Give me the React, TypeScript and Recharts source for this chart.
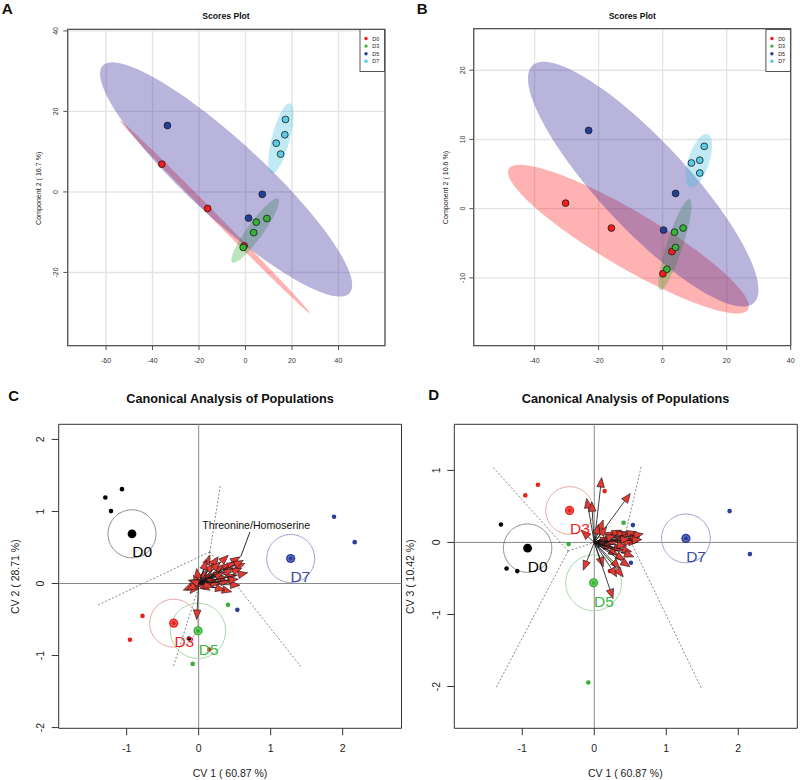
import React from "react";
import {
  ScatterChart,
  Scatter,
  XAxis,
  YAxis,
  CartesianGrid,
  ReferenceLine,
  ReferenceArea,
} from "recharts";

const FONT = '"Liberation Sans", Arial, Helvetica, sans-serif';

const groups = ["D0", "D3", "D5", "D7"];

// PLS-DA scores, one list of [x, y] per group
const scoresA = [
  [[-36, 6.9], [-16.3, -4.1], [-0.6, -13.4]],
  [[-1.0, -13.8], [4.6, -7.5], [9.2, -6.6], [3.5, -10.1]],
  [[-33.6, 16.5], [7.2, -0.6], [1.3, -6.5]],
  [[17.2, 18.0], [16.9, 14.2], [13.2, 12.1], [15.1, 9.4]],
];
const scoresB = [
  [[-30.3, 0.8], [-16.0, -2.8], [2.9, -6.2], [0.1, -9.4]],
  [[3.7, -3.4], [6.4, -2.8], [4.05, -5.6], [1.35, -8.75]],
  [[-23.1, 11.3], [4.05, 2.2], [0.3, -3.1]],
  [[13.0, 9.0], [11.6, 7.0], [9.0, 6.6], [11.6, 5.15]],
];

// 95% regions: centre x, centre y, semi-axis 1 (dx, dy), semi-axis 2 (dx, dy)
const ellipsesA = [
  [-13.15, -6.2, 40.8, -23.9, 0.98, 0.56],
  [4.17, -9.6, 9.9, 7.92, 2.79, -1.17],
  [-8.35, 3.1, 53.1, -28.25, 11.05, 6.95],
  [15.2, 13.3, 3.93, 8.7, 3.74, -0.57],
];
const ellipsesB = [
  [-10.69, -4.4, 37.35, -10.16, 4.41, 3.49],
  [3.83, -5.2, 4.58, 6.55, 2.37, -0.36],
  [-6.07, 3.54, 34.58, -17.14, 10.0, 4.34],
  [11.3, 6.94, 2.7, 3.83, 3.11, -0.47],
];

const plsColors = ["#f41c1c", "#36b336", "#22409a", "#5ccbe6"];
const ellipseColors = ["#ff0000", "#22aa22", "#3b2f9a", "#33bbdd"];
const ellipseOpacity = [0.3, 0.3, 0.36, 0.3];

// canonical analysis: CV1 vs CV2 (C) and CV1 vs CV3 (D)
const meansC = [[-0.926, 0.69], [-0.347, -0.551], [-0.009, -0.657], [1.278, 0.347]];
const obsC = [
  [[-1.296, 1.194], [-1.065, 1.31], [-1.218, 1.005], [-0.134, -0.764]],
  [[-0.78, -0.45], [-0.954, -0.78], [0.148, -0.917]],
  [[0.407, -0.296], [-0.083, -1.116]],
  [[1.88, 0.926], [2.167, 0.574], [0.537, -0.366], [0.509, 0.268]],
];
const radiiC = [0.333, 0.333, 0.383, 0.333];
const labelPosC = [[-0.785, 0.442], [-0.199, -0.803], [0.139, -0.91], [1.412, 0.1]];
const arrowsC = [
  [0.157, 0.393], [0.272, 0.37], [0.411, 0.393], [0.574, 0.37], [0.643, 0.278],
  [0.597, 0.208], [0.528, 0.115], [0.574, -0.024], [0.458, -0.116], [0.365, -0.093],
  [0.296, 0.0], [0.389, 0.092], [0.226, 0.139], [0.111, 0.185], [-0.028, 0.208],
  [-0.075, 0.115], [-0.144, 0.046], [-0.214, -0.093], [-0.121, -0.139], [0.018, -0.047],
  [-0.028, -0.5], [0.157, -0.093], [0.342, 0.254], [0.458, 0.278], [0.203, 0.278],
  [0.528, 0.301], [0.48, 0.2], [0.35, 0.16], [0.25, 0.05], [0.44, 0.03],
  [0.62, 0.32], [0.68, 0.15], [0.2, -0.05], [-0.167, -0.093], [-0.121, 0.046],
  [0.111, 0.324], [0.55, 0.06], [0.3, 0.3],
];
const partitionsC = [
  [0.155, 0.44, 0.301, 1.366],
  [0.155, 0.44, -1.403, -0.301],
  [0.155, 0.44, -0.356, -1.167],
  [0.155, 0.44, 1.43, -1.167],
];

const meansD = [[-0.926, -0.079], [-0.343, 0.444], [-0.009, -0.56], [1.273, 0.056]];
const obsD = [
  [[-1.296, 0.25], [-1.218, -0.361], [-1.069, -0.398]],
  [[-0.958, 0.653], [-0.782, 0.8], [0.144, 0.713], [0.218, -0.398]],
  [[-0.356, -0.023], [0.407, 0.273], [-0.083, -1.944]],
  [[1.88, 0.435], [2.162, -0.162], [0.537, 0.241], [0.509, -0.282]],
];
const radiiD = [0.336, 0.33, 0.387, 0.338];
const labelPosD = [[-0.785, -0.34], [-0.199, 0.192], [0.134, -0.817], [1.414, -0.19]];
const arrowsD = [
  [0.103, 0.9], [-0.106, 0.611], [-0.036, 0.564], [0.5, 0.68], [0.125, 0.31],
  [0.172, 0.217], [0.287, 0.147], [0.38, 0.171], [0.45, 0.147], [0.519, 0.125],
  [0.589, 0.147], [0.635, 0.078], [0.611, 0.008], [0.542, 0.008], [0.45, 0.055],
  [0.333, 0.008], [0.218, 0.055], [0.194, -0.037], [0.264, -0.083], [0.403, -0.107],
  [0.519, -0.13], [0.333, -0.176], [0.426, -0.246], [0.496, -0.339], [0.357, -0.361],
  [0.403, -0.477], [0.311, -0.477], [0.125, -0.339], [-0.153, -0.385], [0.26, -0.78],
  [0.68, 0.12], [0.66, 0.04], [0.5, 0.05], [0.45, -0.05], [0.3, 0.1],
  [0.06, 0.25], [0.55, -0.2], [-0.18, 0.17],
];
const partitionsD = [
  [-0.363, -0.12, -1.405, 1.042],
  [-0.363, -0.12, -1.37, -2.028],
  [-0.363, -0.12, 0.44, 0.147],
  [0.44, 0.147, 0.657, 1.074],
  [0.44, 0.147, 1.49, -2.028],
];

const capColors = ["#000000", "#e8231d", "#36b136", "#2c3f9c"];
const capRing = ["#555555", "#ff8a80", "#9be09b", "#7f8fe0"];
const capCircle = ["#8a8a8a", "#eba0a0", "#a5d6a5", "#9c9cd2"];
const capLabel = ["#000000", "#ee1f1f", "#3dba3d", "#3a4aa8"];

const toXY = (pts: number[][]) => pts.map(([x, y]) => ({ x, y }));

const outline = (cx: number, cy: number, ax: number, ay: number, bx: number, by: number) => {
  const out = [];
  for (let i = 0; i < 120; i++) {
    const t = (i / 120) * Math.PI * 2;
    out.push({ x: cx + ax * Math.cos(t) + bx * Math.sin(t), y: cy + ay * Math.cos(t) + by * Math.sin(t) });
  }
  return out;
};

const pathOf = (pts: any[]) =>
  pts.map((p, i) => `${i ? "L" : "M"}${p.x},${p.y}`).join("") + "Z";

const fillShape = (fill: string, opacity: number) => (p: any) => (
  <path d={pathOf(p.points || [])} fill={fill} fillOpacity={opacity} stroke="none" />
);
const ringShape = (stroke: string) => (p: any) => (
  <path d={pathOf(p.points || [])} fill="none" stroke={stroke} strokeWidth={1} />
);

const noDot = () => <g />;

const dot = (fill: string, r: number, stroke?: string) => (p: any) => (
  <circle cx={p.cx} cy={p.cy} r={r} fill={fill} stroke={stroke || "none"} strokeWidth={0.8} />
);

const meanDot = (fill: string, ring: string) => (p: any) => (
  <g>
    <circle cx={p.cx} cy={p.cy} r={4.6} fill={fill} />
    <circle cx={p.cx} cy={p.cy} r={2.7} fill="none" stroke={ring} strokeWidth={0.8} />
  </g>
);

const textShape = (color: string, size: number) => (p: any) => (
  <text
    x={p.cx}
    y={p.cy}
    textAnchor="middle"
    dominantBaseline="central"
    fontSize={size}
    fontFamily={FONT}
    fill={color}
  >
    {(p.payload && p.payload.text) || p.text}
  </text>
);

const arrowShape = (p: any) => {
  const pts = p.points || [];
  const items = [];
  for (let i = 0; i + 1 < pts.length; i += 2) {
    const o = pts[i];
    const t = pts[i + 1];
    const dx = t.x - o.x;
    const dy = t.y - o.y;
    const len = Math.hypot(dx, dy) || 1;
    const ux = dx / len;
    const uy = dy / len;
    const L = Math.min(9.5, len);
    const W = 3.8;
    const bx = t.x - ux * L;
    const by = t.y - uy * L;
    items.push(
      <g key={i}>
        <line x1={o.x} y1={o.y} x2={bx} y2={by} stroke="#111" strokeWidth={0.8} />
        <polygon
          points={`${t.x},${t.y} ${bx - uy * W},${by + ux * W} ${bx + uy * W},${by - ux * W}`}
          fill="#e23a32"
          stroke="#111"
          strokeWidth={0.6}
        />
      </g>
    );
  }
  return <g>{items}</g>;
};

const xTick = (size: number, dy: number, color: string) => (p: any) => (
  <text
    x={p.x}
    y={p.y + dy}
    textAnchor="middle"
    dominantBaseline="central"
    fontSize={size}
    fontFamily={FONT}
    fill={color}
  >
    {p.payload.value}
  </text>
);

const yTick = (size: number, dx: number, color: string) => (p: any) => {
  const x = p.x - dx;
  return (
    <text
      x={x}
      y={p.y}
      transform={`rotate(-90 ${x} ${p.y})`}
      textAnchor="middle"
      dominantBaseline="central"
      fontSize={size}
      fontFamily={FONT}
      fill={color}
    >
      {p.payload.value}
    </text>
  );
};

function ScoresPanel(props: any) {
  const { left, right, top, yWidth, xDomain, yDomain, xTicks, yTicks, scores, ellipses, yDx } = props;
  return (
    <div style={{ position: "absolute", left, top: 0 }}>
      <ScatterChart width={400} height={370} margin={{ top, right, bottom: 0, left: 0 }}>
        <CartesianGrid stroke="#e4e4e4" strokeWidth={1.4} />
        <XAxis
          type="number"
          dataKey="x"
          domain={xDomain}
          ticks={xTicks}
          interval={0}
          allowDataOverflow
          axisLine={false}
          stroke="#555"
          tickSize={4.3}
          tickMargin={0}
          height={24.3}
          tick={xTick(7, 10, "#333")}
        />
        <YAxis
          type="number"
          dataKey="y"
          domain={yDomain}
          ticks={yTicks}
          interval={0}
          allowDataOverflow
          axisLine={false}
          stroke="#555"
          tickSize={4.4}
          tickMargin={0}
          width={yWidth}
          tick={yTick(7, yDx, "#333")}
        />
        {ellipses.map((e: number[], i: number) => (
          <Scatter
            key={"e" + i}
            data={outline(e[0], e[1], e[2], e[3], e[4], e[5])}
            shape={noDot}
            line={fillShape(ellipseColors[i], ellipseOpacity[i])}
            isAnimationActive={false}
          />
        ))}
        {scores.map((s: number[][], i: number) => (
          <Scatter
            key={"s" + i}
            name={groups[i]}
            data={toXY(s)}
            shape={dot(plsColors[i], 3.4, "#1a1a1a")}
            isAnimationActive={false}
          />
        ))}
        <ReferenceArea
          x1={xDomain[0]}
          x2={xDomain[1]}
          y1={yDomain[0]}
          y2={yDomain[1]}
          fill="none"
          stroke="#555"
          strokeWidth={1.3}
          ifOverflow="visible"
        />
      </ScatterChart>
    </div>
  );
}

function CapPanel(props: any) {
  const {
    left, width, right, yWidth, xDomain, yDomain, yTicks,
    means, obs, radii, labelPos, arrows, partitions, note,
  } = props;
  const arrowData: { x: number; y: number }[] = [];
  arrows.forEach(([x, y]: number[]) => {
    arrowData.push({ x: 0, y: 0 });
    arrowData.push({ x, y });
  });
  return (
    <div style={{ position: "absolute", left, top: 380 }}>
      <ScatterChart width={width} height={400} margin={{ top: 44.3, right, bottom: 0, left: 0 }}>
        <XAxis
          type="number"
          dataKey="x"
          domain={xDomain}
          ticks={[-1, 0, 1, 2]}
          interval={0}
          allowDataOverflow
          axisLine={false}
          stroke="#333"
          tickSize={7}
          tickMargin={0}
          height={51.7}
          tick={xTick(10.5, 12.4, "#222")}
        />
        <YAxis
          type="number"
          dataKey="y"
          domain={yDomain}
          ticks={yTicks}
          interval={0}
          allowDataOverflow
          axisLine={false}
          stroke="#333"
          tickSize={7}
          tickMargin={0}
          width={yWidth}
          tick={yTick(10.5, 11.3, "#222")}
        />
        <ReferenceLine x={0} stroke="#8a8a8a" strokeWidth={1} />
        <ReferenceLine y={0} stroke="#8a8a8a" strokeWidth={1} />
        {partitions.map((s: number[], i: number) => (
          <ReferenceLine
            key={"p" + i}
            segment={[{ x: s[0], y: s[1] }, { x: s[2], y: s[3] }]}
            stroke="#7a7a7a"
            strokeWidth={0.9}
            strokeDasharray="2 1.8"
            ifOverflow="visible"
          />
        ))}
        {means.map((m: number[], i: number) => (
          <Scatter
            key={"c" + i}
            data={outline(m[0], m[1], radii[i], 0, 0, radii[i])}
            shape={noDot}
            line={ringShape(capCircle[i])}
            isAnimationActive={false}
          />
        ))}
        {obs.map((o: number[][], i: number) => (
          <Scatter
            key={"o" + i}
            name={groups[i]}
            data={toXY(o)}
            shape={dot(capColors[i], 2.3)}
            isAnimationActive={false}
          />
        ))}
        <Scatter data={arrowData} shape={noDot} line={arrowShape} isAnimationActive={false} />
        {note && (
          <ReferenceLine
            segment={[{ x: note.from[0], y: note.from[1] }, { x: note.to[0], y: note.to[1] }]}
            stroke="#111"
            strokeWidth={0.9}
            ifOverflow="visible"
          />
        )}
        {note && (
          <Scatter
            data={[{ x: note.at[0], y: note.at[1], text: note.text }]}
            shape={textShape("#111", 10.6)}
            isAnimationActive={false}
          />
        )}
        {means.map((m: number[], i: number) => (
          <Scatter
            key={"m" + i}
            data={[{ x: m[0], y: m[1] }]}
            shape={i === 0 ? dot("#000", 4.4) : meanDot(capColors[i], capRing[i])}
            isAnimationActive={false}
          />
        ))}
        {labelPos.map((l: number[], i: number) => (
          <Scatter
            key={"l" + i}
            data={[{ x: l[0], y: l[1], text: groups[i] }]}
            shape={textShape(capLabel[i], 15.5)}
            isAnimationActive={false}
          />
        ))}
        <ReferenceArea
          x1={xDomain[0]}
          x2={xDomain[1]}
          y1={yDomain[0]}
          y2={yDomain[1]}
          fill="none"
          stroke="#333"
          strokeWidth={1}
          ifOverflow="visible"
        />
      </ScatterChart>
    </div>
  );
}

function LegendBox({ x, y }: { x: number; y: number }) {
  return (
    <g>
      <rect x={x} y={y} width={24.5} height={42} fill="#fff" stroke="#444" strokeWidth={0.9} />
      {groups.map((g, i) => (
        <g key={g}>
          <circle cx={x + 6} cy={y + 9 + i * 7.6} r={1.7} fill={plsColors[i]} />
          <text
            x={x + 12.3}
            y={y + 9 + i * 7.6}
            dominantBaseline="central"
            fontSize={5.4}
            fontFamily={FONT}
            fill="#222"
          >
            {g}
          </text>
        </g>
      ))}
    </g>
  );
}

const vLabel = (cx: number, cy: number, size: number, text: string) => (
  <text
    x={cx}
    y={cy}
    transform={`rotate(-90 ${cx} ${cy})`}
    textAnchor="middle"
    dominantBaseline="central"
    fontSize={size}
    fontFamily={FONT}
    fill="#222"
  >
    {text}
  </text>
);

export default function App() {
  return (
    <div style={{ position: "absolute", left: 0, top: 0, width: 800, height: 780, background: "#fff" }}>
      <ScoresPanel
        left={0}
        right={15}
        top={29.3}
        yWidth={67.7}
        xDomain={[-76.5, 60]}
        yDomain={[-38.2, 40.4]}
        xTicks={[-60, -40, -20, 0, 20, 40]}
        yTicks={[-20, 0, 20, 40]}
        scores={scoresA}
        ellipses={ellipsesA}
        yDx={7.3}
      />
      <ScoresPanel
        left={400}
        right={9.3}
        top={28.7}
        yWidth={73.7}
        xDomain={[-59, 40]}
        yDomain={[-19.8, 26]}
        xTicks={[-40, -20, 0, 20, 40]}
        yTicks={[-10, 0, 10, 20]}
        scores={scoresB}
        ellipses={ellipsesB}
        yDx={7}
      />
      <CapPanel
        left={0}
        width={410}
        right={8.5}
        yWidth={58.7}
        xDomain={[-1.944, 2.817]}
        yDomain={[-2.01, 2.21]}
        yTicks={[-2, -1, 0, 1, 2]}
        means={meansC}
        obs={obsC}
        radii={radiiC}
        labelPos={labelPosC}
        arrows={arrowsC}
        partitions={partitionsC}
        note={{ text: "Threonine/Homoserine", at: [0.799, 0.817], from: [0.713, 0.718], to: [0.583, 0.37] }}
      />
      <CapPanel
        left={400}
        width={400}
        right={2.7}
        yWidth={54.3}
        xDomain={[-1.944, 2.82]}
        yDomain={[-2.58, 1.64]}
        yTicks={[-2, -1, 0, 1]}
        means={meansD}
        obs={obsD}
        radii={radiiD}
        labelPos={labelPosD}
        arrows={arrowsD}
        partitions={partitionsD}
      />
      <svg
        width={800}
        height={780}
        style={{ position: "absolute", left: 0, top: 0, pointerEvents: "none" }}
      >
        <g fontFamily={FONT} fontWeight="bold" fill="#111">
          <text x={1.7} y={14.3} fontSize={15.3}>A</text>
          <text x={416.7} y={13.5} fontSize={15}>B</text>
          <text x={8.3} y={400.7} fontSize={15}>C</text>
          <text x={428.3} y={400.3} fontSize={15}>D</text>
          <text x={226} y={19.3} fontSize={8.6} textAnchor="middle">Scores Plot</text>
          <text x={632.3} y={19.3} fontSize={8.6} textAnchor="middle">Scores Plot</text>
          <text x={230} y={403.3} fontSize={12.7} textAnchor="middle">Canonical Analysis of Populations</text>
          <text x={625.5} y={403.3} fontSize={12.7} textAnchor="middle">Canonical Analysis of Populations</text>
        </g>
        {vLabel(38.8, 188.3, 7.1, "Component 2 ( 16.7 %)")}
        {vLabel(445.5, 187.5, 7.1, "Component 2 ( 10.6 %)")}
        {vLabel(15, 576.7, 10.5, "CV 2 ( 28.71 %)")}
        {vLabel(410.5, 576.7, 10.5, "CV 3 ( 10.42 %)")}
        <text x={230} y={773.3} fontSize={10.5} fontFamily={FONT} fill="#222" textAnchor="middle" dominantBaseline="central">
          CV 1 ( 60.87 %)
        </text>
        <text x={625.3} y={773.3} fontSize={10.5} fontFamily={FONT} fill="#222" textAnchor="middle" dominantBaseline="central">
          CV 1 ( 60.87 %)
        </text>
        <LegendBox x={360} y={29.5} />
        <LegendBox x={765.9} y={29.5} />
      </svg>
    </div>
  );
}
